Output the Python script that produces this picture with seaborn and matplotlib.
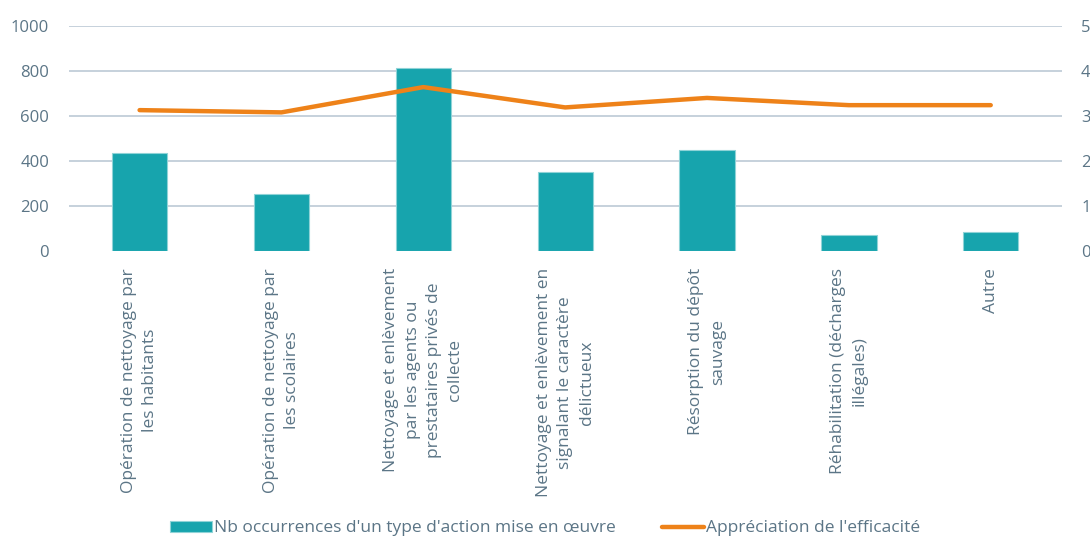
import numpy as np
import pandas as pd
import matplotlib
matplotlib.use("Agg")
import matplotlib.pyplot as plt
from matplotlib.patches import Patch
from matplotlib.lines import Line2D
import seaborn as sns

categories = [
    "Opération de nettoyage par\nles habitants",
    "Opération de nettoyage par\nles scolaires",
    "Nettoyage et enlèvement\npar les agents ou\nprestataires privés de\ncollecte",
    "Nettoyage et enlèvement en\nsignalant le caractère\ndélictueux",
    "Résorption du dépôt\nsauvage",
    "Réhabilitation (décharges\nillégales)",
    "Autre",
]
occurrences = [437, 256, 813, 352, 449, 73, 85]
efficacite = [3.13, 3.08, 3.64, 3.19, 3.40, 3.24, 3.24]

bar_label = "Nb occurrences d'un type d'action mise en œuvre"
line_label = "Appréciation de l'efficacité"

teal = "#17a4ad"
orange = "#ee8219"
text_col = "#5b7586"
grid_col = "#bccad5"

sns.set_theme(style="white")
plt.rcParams["font.family"] = ["Open Sans", "DejaVu Sans"]

fig = plt.figure(figsize=(10.9, 5.36), dpi=100)
ax = fig.add_axes([0.063, 0.531, 0.911, 0.421])

df = pd.DataFrame({"cat": categories, "n": occurrences})
sns.barplot(data=df, x="cat", y="n", color=teal, saturation=1, width=0.39,
            edgecolor="#8fd3d7", linewidth=0.8, ax=ax, zorder=2)

ax.set_ylim(0, 1000)
ax.set_yticks(np.arange(0, 1001, 200))
ax.set_xlim(-0.5, len(categories) - 0.5)
for y in range(200, 1001, 200):
    ax.axhline(y, color=grid_col, lw=1.2, zorder=0)
ax.set_xlabel("")
ax.set_ylabel("")
for s in ax.spines.values():
    s.set_visible(False)
ax.tick_params(axis="y", length=0, pad=14, labelsize=12, labelcolor=text_col)
ax.tick_params(axis="x", length=0, pad=12, labelsize=12.5, labelcolor=text_col)
ax.set_xticks(range(len(categories)))
ax.set_xticklabels(categories, rotation=90, ha="center", va="top",
                   multialignment="center", linespacing=1.45)

ax2 = ax.twinx()
sns.lineplot(x=np.arange(len(efficacite)), y=efficacite, color=orange,
             lw=3.2, ax=ax2, solid_capstyle="round", zorder=3)
ax2.set_ylim(0, 5)
ax2.set_yticks(range(0, 6))
ax2.set_xlim(-0.5, len(categories) - 0.5)
for s in ax2.spines.values():
    s.set_visible(False)
ax2.tick_params(axis="y", length=0, pad=14, labelsize=12, labelcolor=text_col)
ax2.set_ylabel("")
ax2.grid(False)

handles = [
    Patch(facecolor=teal, edgecolor="#8fd3d7", linewidth=0.8),
    Line2D([0], [0], color=orange, lw=3.2),
]
fig.legend(handles, [bar_label, line_label], loc="lower center",
           bbox_to_anchor=(0.5, -0.03), ncol=2, frameon=False,
           fontsize=12.5, labelcolor=text_col, handlelength=2.4,
           handleheight=0.6, handletextpad=0.1, columnspacing=2.7)

fig.savefig("out.png", dpi=100)
